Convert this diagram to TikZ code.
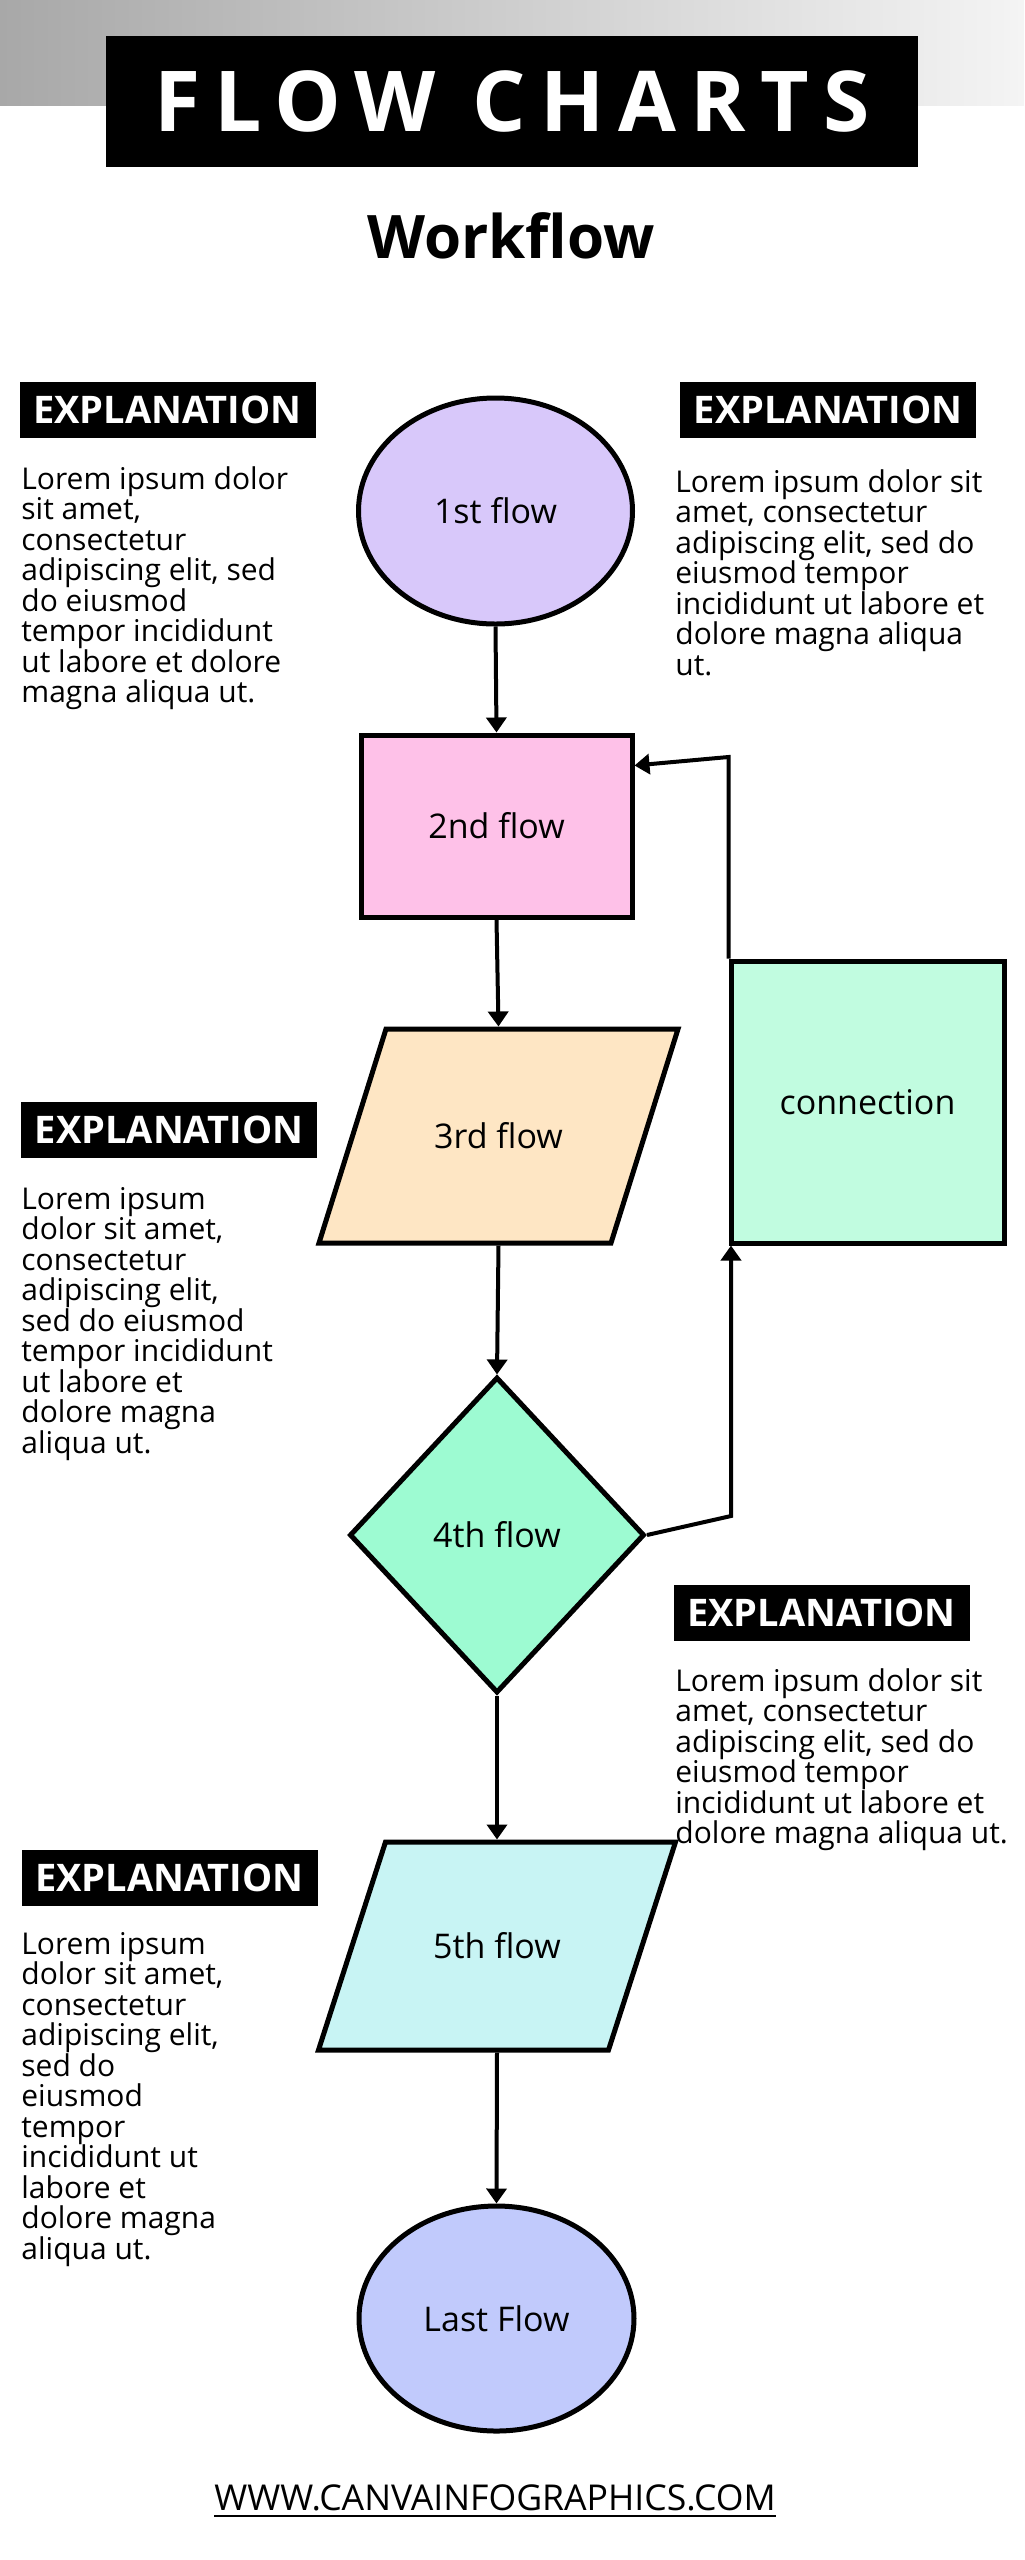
\documentclass[tikz,border=0pt]{standalone}
\usepackage{fontspec}
\setmainfont{Open Sans}
\newfontfamily\titlefont[LetterSpace=17]{Open Sans}
\usetikzlibrary{shapes.geometric,arrows.meta,backgrounds}

\definecolor{bandLeft}{HTML}{A8A8A8}
\definecolor{bandRight}{HTML}{F4F4F4}
\definecolor{flowOne}{HTML}{D8C8FA}
\definecolor{flowTwo}{HTML}{FEC1E8}
\definecolor{flowThree}{HTML}{FEE6C4}
\definecolor{flowFour}{HTML}{9DFBD2}
\definecolor{flowFive}{HTML}{C8F4F4}
\definecolor{flowLast}{HTML}{C1CAFC}
\definecolor{flowConn}{HTML}{C1FCE0}

\tikzset{
  flowedge/.style={draw=black, line width=2.5pt, line join=miter},
  flowshape/.style={flowedge, inner sep=0pt, font=\fontsize{17}{20}\selectfont},
  flowpara/.style={rectangle, inner sep=0pt, outer sep=0pt, font=\fontsize{17}{20}\selectfont},
  flowline/.style={line width=2pt, -{Triangle[length=7.5pt,width=10pt]}},
  explbox/.style={fill=black, text=white, inner sep=0pt, minimum width=148pt, minimum height=28pt, font=\bfseries\fontsize{19}{22}\selectfont},
  lorem/.style={anchor=north west, align=left, inner sep=0pt, font=\fontsize{15}{15.25}\selectfont},
}

\begin{document}
\begin{tikzpicture}[x=0.5pt,y=-0.5pt]
% Parameters
\def\midX{497};
\def\leftX{21};
\def\rightX{675};
\def\slant{16.75pt};

\useasboundingbox (0,0) rectangle (1024,2560);

% Header
\shade[left color=bandLeft, right color=bandRight] (0,0) rectangle (1024,105);
\node[fill=black, text=white, minimum width=406pt, minimum height=65.5pt] (title) at (512,101.5) {\titlefont\bfseries\fontsize{42}{46}\selectfont FLOW CHARTS};
\node (subtitle) at (511,236) {\bfseries\fontsize{30}{34}\selectfont Workflow};

% Flow shapes
\node[flowshape, ellipse, fill=flowOne, minimum width=137pt, minimum height=113pt] (flow1) at (495.5,511) {1st flow};
\node[flowshape, rectangle, fill=flowTwo, minimum width=135.5pt, minimum height=91pt] (flow2) at (496.5,826) {2nd flow};
\node[flowpara, minimum width=146pt, minimum height=107pt] (flow3) at (498.5,1136) {3rd flow};
\node[flowshape, diamond, fill=flowFour, minimum width=147.5pt, minimum height=158pt] (flow4) at (\midX,1535) {4th flow};
\node[flowpara, minimum width=145pt, minimum height=104pt] (flow5) at (\midX,1946) {5th flow};
\node[flowshape, ellipse, fill=flowLast, minimum width=137.5pt, minimum height=112.5pt] (flowLast) at (496.5,2318.5) {Last Flow};
\node[flowshape, rectangle, fill=flowConn, minimum width=136.5pt, minimum height=141pt] (conn) at (867.5,1102) {connection};

% Parallelograms behind 3rd and 5th flow
\begin{scope}[on background layer]
\draw[flowedge, fill=flowThree] ([xshift=\slant]flow3.north west) -- ([xshift=\slant]flow3.north east)
  -- ([xshift=-\slant]flow3.south east) -- ([xshift=-\slant]flow3.south west) -- cycle;
\draw[flowedge, fill=flowFive] ([xshift=\slant]flow5.north west) -- ([xshift=\slant]flow5.north east)
  -- ([xshift=-\slant]flow5.south east) -- ([xshift=-\slant]flow5.south west) -- cycle;
\end{scope}

% Connectors
\draw[flowline] (flow1.south) -- (flow2.north);
\draw[flowline] (flow2.south) -- ([yshift=1.25pt]flow3.north);
\draw[flowline] ([yshift=-1.25pt]flow3.south) -- (flow4.north);
\draw[flowline] (flow4.south) -- ([yshift=1.25pt]flow5.north);
\draw[flowline] ([yshift=-1.25pt]flow5.south) -- (flowLast.north);
\coordinate (bend) at (731,1516); % loop out of 4th flow
\draw[flowline] (flow4.east) -- (bend) -- (bend |- conn.south);
\coordinate (turn) at (727,757); % loop back to 2nd flow
\draw[flowline] (conn.north west) -- (conn.north west |- turn) -- ([yshift=-16.5pt]flow2.north east);

% Explanations
\node[explbox] (expl1) at (167.5,410) {EXPLANATION};
\node[lorem] (text1) at (\leftX,466) {Lorem ipsum dolor\\sit amet,\\consectetur\\adipiscing elit, sed\\do eiusmod\\tempor incididunt\\ut labore et dolore\\magna aliqua ut.};

\node[explbox] (expl2) at (828,410) {EXPLANATION};
\node[lorem] (text2) at (\rightX,469) {Lorem ipsum dolor sit\\amet, consectetur\\adipiscing elit, sed do\\eiusmod tempor\\incididunt ut labore et\\dolore magna aliqua\\ut.};

\node[explbox] (expl3) at (169,1130) {EXPLANATION};
\node[lorem] (text3) at (\leftX,1187) {Lorem ipsum\\dolor sit amet,\\consectetur\\adipiscing elit,\\sed do eiusmod\\tempor incididunt\\ut labore et\\dolore magna\\aliqua ut.};

\node[explbox] (expl4) at (821.5,1613) {EXPLANATION};
\node[lorem] (text4) at (\rightX,1668) {Lorem ipsum dolor sit\\amet, consectetur\\adipiscing elit, sed do\\eiusmod tempor\\incididunt ut labore et\\dolore magna aliqua ut.};

\node[explbox] (expl5) at (169.5,1878) {EXPLANATION};
\node[lorem] (text5) at (\leftX,1932) {Lorem ipsum\\dolor sit amet,\\consectetur\\adipiscing elit,\\sed do\\eiusmod\\tempor\\incididunt ut\\labore et\\dolore magna\\aliqua ut.};

% Footer
\node[inner sep=0pt] (web) at (495,2498) {\fontsize{17.8}{20}\selectfont WWW.CANVAINFOGRAPHICS.COM};
\draw[line width=1pt] ([yshift=-2pt]web.south west) -- ([yshift=-2pt]web.south east);

\end{tikzpicture}
\end{document}
